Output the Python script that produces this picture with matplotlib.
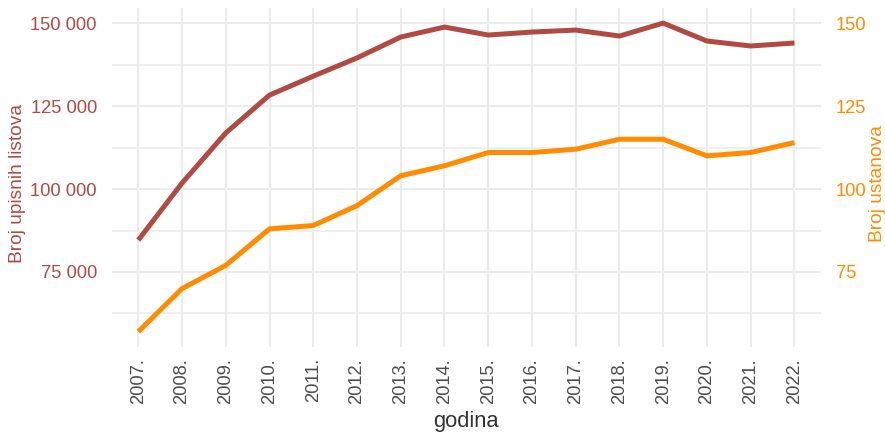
import matplotlib
matplotlib.use("Agg")
import matplotlib.pyplot as plt
from matplotlib.ticker import FixedLocator, FuncFormatter

plt.rcParams['font.family'] = ['Liberation Sans', 'DejaVu Sans']

years = ["2007.", "2008.", "2009.", "2010.", "2011.", "2012.", "2013.", "2014.",
         "2015.", "2016.", "2017.", "2018.", "2019.", "2020.", "2021.", "2022."]
upisni_listovi = [84600, 101800, 116900, 128300, 134000, 139500, 145800, 148800,
                  146400, 147300, 147900, 146100, 150000, 144600, 143100, 144000]
ustanove = [57, 70, 77, 88, 89, 95, 104, 107, 111, 111, 112, 115, 115, 110, 111, 114]

left_ticks = [75000, 100000, 125000, 150000]
right_ticks = [75, 100, 125, 150]
minor_ticks = [62500, 87500, 112500, 137500]

red = "#B04A42"
orange = "#FF8C00"
grid_c = "#EBEBEB"

fig = plt.figure(figsize=(8.85, 4.32), dpi=100)
ax = fig.add_axes([0.1266, 0.1968, 0.8007, 0.7847])
x = list(range(len(years)))

scale = 1000
ax.plot(x, upisni_listovi, color=red, lw=3.6, solid_capstyle='butt', zorder=3)
ax.plot(x, [v * scale for v in ustanove], color=orange, lw=3.6, solid_capstyle='butt', zorder=3)

ymin, ymax = 52400, 154550
ax.set_ylim(ymin, ymax)
ax.set_xlim(-0.6, len(years) - 1 + 0.6)

ax.set_xticks(x)
ax.set_xticklabels(years, rotation=90, va='top', ha='center')
ax.yaxis.set_major_locator(FixedLocator(left_ticks))
ax.yaxis.set_minor_locator(FixedLocator(minor_ticks))
ax.yaxis.set_major_formatter(FuncFormatter(lambda v, p: f"{int(v):,}".replace(",", " ")))

for s in ax.spines.values():
    s.set_visible(False)
ax.tick_params(axis='both', which='both', length=0)
ax.tick_params(axis='y', colors=red, labelsize=13.2, pad=11)
ax.tick_params(axis='x', colors="#4D4D4D", labelsize=13.2, pad=8)
ax.grid(True, which='major', color=grid_c, lw=1.4, zorder=0)
ax.grid(True, which='minor', axis='y', color=grid_c, lw=1.1, zorder=0)
ax.set_axisbelow(True)

ax.set_ylabel("Broj upisnih listova", color=red, fontsize=13.8, va='center')
ax.yaxis.set_label_coords(-0.133, 0.481)
ax.set_xlabel("godina", color="#333333", fontsize=15.8, va='center')
ax.xaxis.set_label_coords(0.4995, -0.221)

ax2 = ax.twinx()
ax2.set_ylim(ymin / scale, ymax / scale)
ax2.yaxis.set_major_locator(FixedLocator(right_ticks))
for s in ax2.spines.values():
    s.set_visible(False)
ax2.tick_params(axis='y', colors=orange, labelsize=13.2, length=0, pad=11)
ax2.set_ylabel("Broj ustanova", color=orange, fontsize=13.8, va='center', rotation=90)
ax2.yaxis.set_label_coords(1.080, 0.481)

fig.savefig("out.png", dpi=100)
